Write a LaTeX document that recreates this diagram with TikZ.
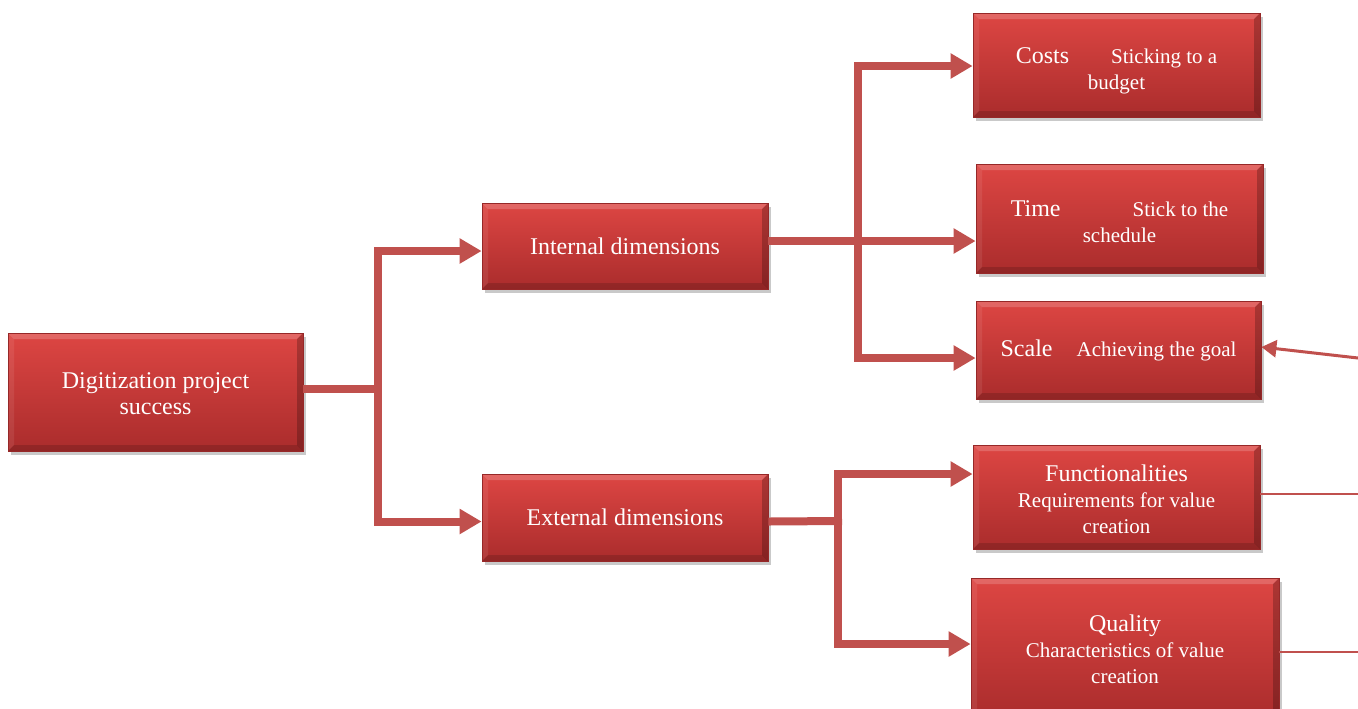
\documentclass[tikz,border=0pt]{standalone}
\usepackage{fontspec}
\setmainfont{Liberation Serif}
\usetikzlibrary{arrows.meta,shadows}
\definecolor{connc}{RGB}{192,80,77}
\definecolor{boxtop}{RGB}{221,70,67}
\definecolor{boxbot}{RGB}{170,44,44}
\definecolor{boxedge}{RGB}{150,40,40}
\newcommand\bigf{\fontsize{12}{13}\selectfont}
\newcommand\smf{\fontsize{10.5}{13}\selectfont}
\tikzset{
  box/.style={draw=boxedge, line width=0.4pt, top color=boxtop, bottom color=boxbot,
    text=white, align=center, inner sep=0pt, font=\bigf,
    drop shadow={shadow xshift=1.5pt, shadow yshift=-2pt, opacity=0.3, fill=black!70},
    path picture={
      \path (path picture bounding box.north west) coordinate (bnw)
            (path picture bounding box.south east) coordinate (bse);
      \fill[white,opacity=0.18] (bnw) -- (bse |- bnw) -- ([shift={(-3pt,-3pt)}]bse |- bnw) -- ([shift={(3pt,-3pt)}]bnw) -- cycle;
      \fill[white,opacity=0.08] (bnw) -- ([shift={(3pt,-3pt)}]bnw) -- ([shift={(3pt,3pt)}]bnw |- bse) -- (bnw |- bse) -- cycle;
      \fill[black,opacity=0.15] (bnw |- bse) -- ([shift={(3pt,3pt)}]bnw |- bse) -- ([shift={(-3pt,3pt)}]bse) -- (bse) -- cycle;
      \fill[black,opacity=0.22] (bse) -- ([shift={(-3pt,3pt)}]bse) -- ([shift={(-3pt,-3pt)}]bse |- bnw) -- (bse |- bnw) -- cycle;
    }},
  conn/.style={draw=connc, line width=4pt},
  arr/.style={conn, -{Triangle[length=11pt,width=12pt]}},
  thinarr/.style={draw=connc, line width=1.5pt, -{Triangle[length=7.5pt,width=8.5pt]}},
  thinline/.style={draw=connc, line width=1pt},
}
\begin{document}
\begin{tikzpicture}[x=0.5pt,y=-0.5pt]
\useasboundingbox (0,0) rectangle (1358,708);

\node[box, minimum width=147.5pt, minimum height=59pt] (root) at (155.5,392) {\rule{0pt}{10pt}Digitization project\\success};
\node[box, minimum width=143pt, minimum height=43pt] (int) at (625,246) {Internal dimensions};
\node[box, minimum width=143pt, minimum height=43.5pt] (ext) at (625,517.5) {External dimensions};
\node[box, minimum width=143.5pt, minimum height=52pt] (costs) at (1116.5,65) {\rule{0pt}{14pt}Costs\hspace{21pt}{\smf Sticking to a}\\{\smf budget}};
\node[box, minimum width=143.5pt, minimum height=54.5pt] (time) at (1119.5,218.5) {\rule{0pt}{11pt}Time\hspace{36pt}{\smf Stick to the}\\{\smf schedule}};
\node[box, minimum width=142.5pt, minimum height=49pt] (scale) at (1118.5,350) {Scale\hspace{12pt}{\smf Achieving the goal}};
\node[box, minimum width=143.5pt, minimum height=52pt] (func) at (1116.5,497) {\rule{0pt}{11pt}Functionalities\\{\smf Requirements for value}\\{\smf creation}};
\node[box, minimum width=154pt, minimum height=71pt] (qual) at (1125,649) {Quality\\{\smf Characteristics of value}\\{\smf creation}};

\coordinate (j1) at (378,389);
\coordinate (j2) at (858,241);
\coordinate (j3) at (838,521);
\coordinate (r1) at (1358,358);
\coordinate (r2) at (1358,494);
\coordinate (r3) at (1358,652);

\draw[conn] ([yshift=1.5pt]root.east) -- ([xshift=2pt]j1);
\draw[arr] ([yshift=-2pt]j1) |- ([yshift=-2.5pt]int.west);
\draw[arr] ([yshift=2pt]j1) |- ([yshift=-2pt]ext.west);

\draw[conn] ([yshift=2.5pt]int.east) -- (j2);
\draw[arr] (j2) |- ([yshift=-0.5pt]costs.west);
\draw[arr] (j2) -- (time.west |- j2);
\draw[arr] (j2) |- ([yshift=-4pt]scale.west);

\draw[conn] ([yshift=-2pt]ext.east) -- ([xshift=2pt]j3);
\draw[arr] ([yshift=2pt]j3) |- ([yshift=11.5pt]func.west);
\draw[arr] ([yshift=-2pt]j3) |- ([yshift=2.5pt]qual.west);

\draw[thinarr] (r1) -- ([yshift=1.5pt]scale.east);
\draw[thinline] (func.east |- r2) -- (r2);
\draw[thinline] (qual.east |- r3) -- (r3);
\end{tikzpicture}
\end{document}
